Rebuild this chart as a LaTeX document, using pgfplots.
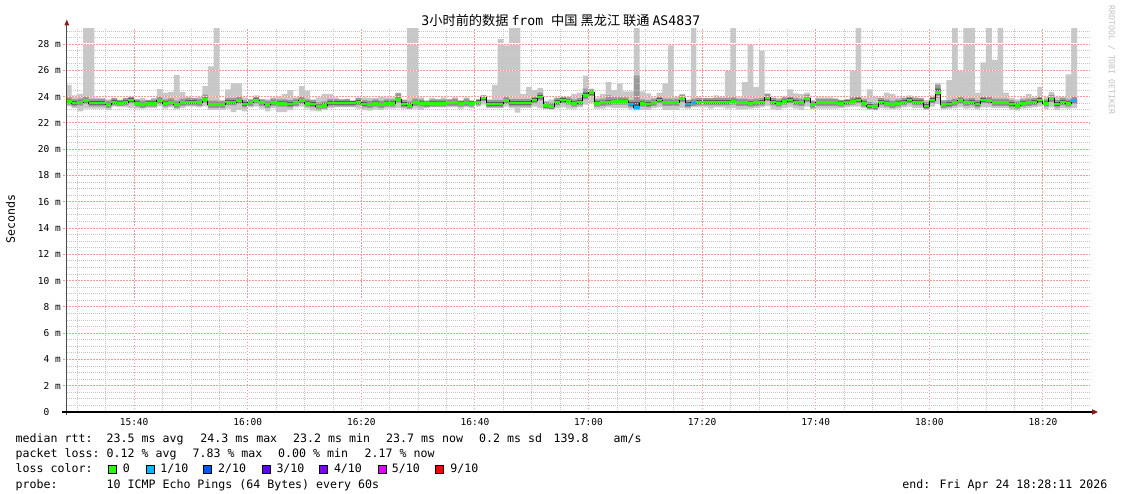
\documentclass[border=0pt]{standalone}
\usepackage{fontspec}
\setmainfont{DejaVu Sans Mono}
\newfontfamily\cjk{Noto Sans CJK SC}
\usepackage{pgfplots}
\pgfplotsset{compat=1.18}
\usepackage{pgfplotstable}
\usepgfplotslibrary{fillbetween}
\definecolor{smokeL}{HTML}{C8C8C8}
\definecolor{smokeM}{HTML}{989898}
\definecolor{smokeD}{HTML}{5A5A5A}
\definecolor{lossA}{HTML}{26FF00}
\definecolor{lossB}{HTML}{00B8FF}
\definecolor{lossC}{HTML}{0059FF}
\definecolor{lossD}{HTML}{5E00FF}
\definecolor{lossE}{HTML}{7E00FF}
\definecolor{lossF}{HTML}{DD00FF}
\definecolor{lossG}{HTML}{FF0000}
\definecolor{majgrid}{HTML}{F09A9A}
\definecolor{mingrid}{HTML}{C4C4C4}
\definecolor{arrowred}{HTML}{8B1A1A}
\definecolor{wmgray}{HTML}{C0C0C0}
\newcommand\tickfont{\fontsize{9.5}{11}\selectfont}
\newcommand\legfont{\fontsize{11.6}{13}\selectfont}
\newcommand\titlefont{\fontsize{13.2}{15}\selectfont}
\newcommand\wmfont{\fontsize{8.2}{9}\selectfont}

\pgfplotstableread{
t lo mlo dlo med dhi mhi hi
28 23.26 23.39 23.52 23.64 23.78 23.94 24.90
29 23.13 23.26 23.39 23.51 23.65 23.81 24.10
30 22.88 23.31 23.44 23.56 23.70 23.86 24.20
31 23.08 23.44 23.57 23.69 23.83 23.99 30
32 23.08 23.26 23.39 23.51 23.65 23.81 30
33 23.08 23.26 23.39 23.51 23.65 23.81 23.95
34 23.08 23.26 23.39 23.51 23.65 23.81 23.90
35 23.00 23.14 23.27 23.39 23.53 23.69 23.80
36 23.23 23.34 23.47 23.59 23.73 23.89 23.90
37 23.26 23.26 23.37 23.49 23.63 23.75 23.75
38 23.18 23.34 23.47 23.59 23.73 23.89 23.90
39 23.13 23.49 23.62 23.74 23.88 24.04 24.05
40 23.08 23.24 23.37 23.49 23.63 23.79 23.80
41 23.08 23.14 23.27 23.39 23.53 23.69 23.90
42 23.13 23.24 23.37 23.49 23.63 23.75 23.75
43 23.13 23.24 23.37 23.49 23.63 23.79 23.90
44 23.26 23.44 23.57 23.69 23.83 23.99 24.58
45 23.08 23.24 23.37 23.49 23.63 23.79 24.30
46 23.18 23.31 23.44 23.56 23.70 23.86 24.35
47 23.03 23.14 23.27 23.39 23.53 23.69 25.65
48 23.13 23.29 23.42 23.54 23.68 23.84 24.35
49 23.23 23.34 23.47 23.59 23.73 23.89 24.05
50 23.23 23.34 23.47 23.59 23.73 23.89 23.90
51 23.18 23.29 23.42 23.54 23.68 23.84 24.05
52 23.26 23.54 23.67 23.79 23.93 24.15 24.80
53 23.00 23.14 23.27 23.39 23.53 23.69 26.30
54 23.00 23.14 23.27 23.39 23.53 23.69 30
55 23.00 23.14 23.27 23.39 23.53 23.69 23.70
56 23.08 23.34 23.47 23.59 23.73 23.89 24.55
57 22.83 23.34 23.47 23.59 23.73 23.89 25.00
58 23.00 23.44 23.57 23.69 23.83 23.99 25.00
59 22.88 23.19 23.32 23.44 23.58 23.74 23.95
60 23.18 23.29 23.42 23.54 23.68 23.80 23.80
61 23.23 23.47 23.60 23.72 23.86 24.02 24.10
62 23.08 23.29 23.42 23.54 23.68 23.80 23.80
63 22.88 23.14 23.27 23.39 23.53 23.69 23.80
64 23.13 23.29 23.42 23.54 23.68 23.84 23.95
65 22.83 23.24 23.37 23.49 23.63 23.79 24.00
66 22.83 23.24 23.37 23.49 23.63 23.79 24.20
67 23.00 23.19 23.32 23.44 23.58 23.74 24.50
68 23.18 23.29 23.42 23.54 23.68 23.84 23.95
69 23.23 23.44 23.57 23.69 23.83 23.99 24.80
70 23.08 23.24 23.37 23.49 23.63 23.79 24.45
71 22.93 23.19 23.32 23.44 23.58 23.74 23.80
72 22.88 23.01 23.14 23.26 23.40 23.56 23.95
73 23.00 23.09 23.22 23.34 23.48 23.64 24.20
74 23.13 23.26 23.39 23.51 23.65 23.81 24.20
75 23.18 23.26 23.39 23.51 23.65 23.81 23.95
76 23.18 23.26 23.39 23.51 23.65 23.80 23.80
77 23.18 23.26 23.39 23.51 23.65 23.81 23.85
78 23.18 23.26 23.39 23.51 23.65 23.70 23.70
79 23.08 23.34 23.47 23.59 23.73 23.89 23.95
80 23.00 23.19 23.32 23.44 23.58 23.74 23.95
81 22.93 23.14 23.27 23.39 23.53 23.69 23.90
82 23.03 23.24 23.37 23.49 23.63 23.79 23.90
83 22.98 23.14 23.27 23.39 23.53 23.69 24.05
84 23.08 23.24 23.37 23.49 23.63 23.79 23.95
85 23.08 23.24 23.37 23.49 23.63 23.79 23.95
86 23.13 23.54 23.67 23.79 23.93 24.25 24.30
87 23.08 23.19 23.32 23.44 23.58 23.74 23.80
88 23.03 23.09 23.22 23.34 23.48 23.64 30
89 23.08 23.29 23.42 23.54 23.68 23.84 30
90 23.00 23.24 23.37 23.49 23.63 23.79 23.95
91 23.13 23.21 23.34 23.46 23.60 23.70 23.70
92 23.18 23.24 23.37 23.49 23.63 23.79 23.90
93 23.18 23.24 23.37 23.49 23.63 23.79 23.80
94 23.18 23.24 23.37 23.49 23.63 23.79 23.95
95 23.18 23.29 23.42 23.54 23.68 23.80 23.80
96 23.18 23.29 23.42 23.54 23.68 23.84 23.95
97 23.08 23.24 23.37 23.49 23.63 23.70 23.70
98 23.18 23.29 23.42 23.54 23.68 23.84 23.95
99 23.13 23.24 23.37 23.49 23.63 23.70 23.70
100 23.23 23.34 23.47 23.59 23.73 23.80 23.80
101 23.39 23.65 23.78 23.90 24.04 24.10 24.10
102 23.13 23.19 23.32 23.44 23.58 23.74 23.80
103 23.13 23.19 23.32 23.44 23.58 23.74 24.90
104 23.13 23.19 23.32 23.44 23.58 23.74 28.40
105 23.23 23.44 23.57 23.69 23.83 23.99 27.90
106 23.13 23.26 23.39 23.51 23.65 23.81 30
107 22.78 23.26 23.39 23.51 23.65 23.81 30
108 23.13 23.26 23.39 23.51 23.65 23.81 24.20
109 23.13 23.26 23.39 23.51 23.65 23.81 24.75
110 23.23 23.49 23.62 23.74 23.88 24.04 24.50
111 23.13 23.72 23.85 23.97 24.11 24.30 24.65
112 23.08 23.08 23.19 23.31 23.45 23.61 23.70
113 23.03 23.03 23.11 23.23 23.37 23.53 23.80
114 23.13 23.34 23.47 23.59 23.73 23.89 23.95
115 23.18 23.49 23.62 23.74 23.88 24.00 24.00
116 23.08 23.39 23.52 23.64 23.78 23.94 23.95
117 23.08 23.24 23.37 23.49 23.63 23.79 24.20
118 23.18 23.34 23.47 23.59 23.73 23.89 24.30
119 23.39 23.80 23.95 24.10 24.30 24.60 25.60
120 23.49 24.00 24.15 24.30 24.45 24.55 24.60
121 23.08 23.24 23.37 23.49 23.63 23.79 23.95
122 23.08 23.29 23.42 23.54 23.68 23.84 24.20
123 23.18 23.34 23.47 23.59 23.73 24.10 25.10
124 23.13 23.39 23.52 23.64 23.78 23.94 24.50
125 23.13 23.39 23.52 23.64 23.78 23.94 25.00
126 23.13 23.39 23.52 23.64 23.78 23.94 24.40
127 23.03 23.19 23.32 23.44 23.58 23.74 24.40
128 22.98 22.98 23.06 23.18 23.60 25.60 30
129 23.00 23.24 23.37 23.49 23.63 23.79 24.40
130 22.98 23.19 23.32 23.44 23.58 23.74 24.25
131 23.13 23.29 23.42 23.54 23.68 23.84 23.95
132 23.18 23.49 23.62 23.74 23.88 24.04 24.30
133 22.98 23.29 23.42 23.54 23.68 23.84 25.00
134 22.98 23.29 23.42 23.54 23.68 23.84 27.90
135 22.98 23.29 23.42 23.54 23.68 23.84 24.00
136 23.13 23.59 23.72 23.84 23.98 24.14 24.20
137 23.08 23.19 23.32 23.44 23.58 23.74 23.80
138 23.18 23.29 23.42 23.54 23.68 23.84 30
139 23.18 23.34 23.47 23.59 23.73 23.89 23.95
140 23.18 23.34 23.47 23.59 23.73 23.89 23.90
141 23.08 23.34 23.47 23.59 23.73 23.89 23.90
142 23.18 23.34 23.47 23.59 23.73 23.89 24.10
143 23.18 23.34 23.47 23.59 23.73 23.89 24.00
144 23.08 23.34 23.47 23.59 23.73 23.89 26.00
145 23.13 23.39 23.52 23.64 23.78 23.94 30
146 23.03 23.29 23.42 23.54 23.68 23.84 23.95
147 23.03 23.29 23.42 23.54 23.68 23.84 25.10
148 23.08 23.24 23.37 23.49 23.63 23.79 28.10
149 23.13 23.29 23.42 23.54 23.68 23.84 24.75
150 23.18 23.34 23.47 23.59 23.73 23.89 27.50
151 23.28 23.65 23.78 23.90 24.04 24.20 24.25
152 23.03 23.34 23.47 23.59 23.73 23.89 23.95
153 22.98 23.24 23.37 23.49 23.63 23.79 23.90
154 23.13 23.39 23.52 23.64 23.78 23.94 24.05
155 23.18 23.49 23.62 23.74 23.88 24.04 24.55
156 23.08 23.34 23.47 23.59 23.73 23.89 24.25
157 22.98 23.29 23.42 23.54 23.68 23.84 24.20
158 23.23 23.59 23.72 23.84 23.98 24.14 24.30
159 23.03 23.14 23.27 23.39 23.53 23.69 23.70
160 23.08 23.29 23.42 23.54 23.68 23.84 23.95
161 23.08 23.29 23.42 23.54 23.68 23.84 23.95
162 23.08 23.29 23.42 23.54 23.68 23.84 23.95
163 23.08 23.29 23.42 23.54 23.68 23.84 23.85
164 23.13 23.24 23.37 23.49 23.63 23.75 23.75
165 23.18 23.34 23.47 23.59 23.73 23.80 23.80
166 23.23 23.39 23.52 23.64 23.78 23.94 26.00
167 23.23 23.49 23.62 23.74 23.88 24.04 30
168 23.13 23.24 23.37 23.49 23.63 23.79 23.95
169 23.03 23.03 23.16 23.28 23.42 23.58 24.55
170 22.98 22.98 23.11 23.23 23.37 23.53 24.05
171 23.13 23.34 23.47 23.59 23.73 23.89 23.95
172 23.08 23.24 23.37 23.49 23.63 23.79 24.30
173 23.03 23.14 23.27 23.39 23.53 23.69 24.20
174 23.08 23.24 23.37 23.49 23.63 23.79 23.95
175 23.18 23.34 23.47 23.59 23.73 23.89 23.95
176 23.23 23.49 23.62 23.74 23.88 24.04 24.10
177 23.13 23.34 23.47 23.59 23.73 23.89 24.00
178 23.13 23.34 23.47 23.59 23.73 23.89 23.90
179 23.03 23.03 23.16 23.28 23.42 23.58 23.75
180 23.23 23.49 23.62 23.74 23.88 24.04 24.10
181 23.44 23.90 24.15 24.30 24.60 24.90 25.05
182 23.03 23.14 23.27 23.39 23.53 23.69 23.75
183 23.08 23.19 23.32 23.44 23.58 23.74 25.25
184 23.13 23.29 23.42 23.54 23.68 23.84 30
185 23.18 23.44 23.57 23.69 23.83 23.99 26.00
186 23.08 23.29 23.42 23.54 23.68 23.84 30
187 23.13 23.34 23.47 23.59 23.73 23.89 30
188 23.03 23.19 23.32 23.44 23.58 23.74 24.30
189 23.18 23.49 23.62 23.74 23.88 24.04 26.60
190 23.18 23.44 23.57 23.69 23.83 23.99 30
191 23.13 23.29 23.42 23.54 23.68 23.84 26.80
192 23.13 23.29 23.42 23.54 23.68 23.84 30
193 23.13 23.29 23.42 23.54 23.68 23.84 24.30
194 22.98 23.19 23.32 23.44 23.58 23.74 23.90
195 22.93 23.09 23.22 23.34 23.48 23.64 23.80
196 23.08 23.24 23.37 23.49 23.63 23.79 23.95
197 23.13 23.29 23.42 23.54 23.68 23.84 24.20
198 23.18 23.34 23.47 23.59 23.73 23.89 23.95
199 23.23 23.49 23.62 23.74 23.88 24.04 24.75
200 23.03 23.24 23.37 23.49 23.63 23.79 24.05
201 23.18 23.59 23.72 23.84 23.98 24.14 24.35
202 22.98 23.19 23.32 23.44 23.58 23.74 24.05
203 23.13 23.34 23.47 23.59 23.73 23.89 24.00
204 23.08 23.24 23.37 23.49 23.63 23.79 25.70
205 23.13 23.44 23.57 23.69 23.83 23.99 30
206 23.13 23.44 23.57 23.69 23.83 23.99 30
}\smoke

\begin{document}
\begin{tikzpicture}
% grid drawn beneath the axis (decoration at known pixel positions)
\tikzset{mingr/.style={draw=mingrid, line width=0.8pt, dash pattern=on 1pt off 1pt},
         majgr/.style={draw=majgrid, line width=1pt, dash pattern=on 1.5pt off 1.5pt}}
\foreach \t in {30,35,...,205} {
  \pgfmathsetmacro\xx{67+(\t-28.18)*5.68}
  \draw[mingr] (\xx pt,-412pt) -- (\xx pt,-28.3pt);
}
\foreach \v in {0.5,1,...,29} {
  \pgfmathsetmacro\yy{-412+\v*13.14}
  \draw[mingr] (67pt,\yy pt) -- (1089.4pt,\yy pt);
}
\foreach \t in {40,60,...,200} {
  \pgfmathsetmacro\xx{67+(\t-28.18)*5.68}
  \draw[draw=white, line width=1.2pt] (\xx pt,-412pt) -- (\xx pt,-28.3pt);
  \draw[majgr] (\xx pt,-412pt) -- (\xx pt,-28.3pt);
}
\foreach \v in {2,4,...,28} {
  \pgfmathsetmacro\yy{-412+\v*13.14}
  \draw[draw=white, line width=1.2pt] (63pt,\yy pt) -- (1089.4pt,\yy pt);
  \draw[majgr] (63pt,\yy pt) -- (1089.4pt,\yy pt);
}
\begin{axis}[
  at={(67pt,-412pt)}, anchor=south west,
  scale only axis, width=1022.4pt, height=383.7pt,
  xmin=28.18, xmax=208.18, ymin=0, ymax=29.2,
  axis line style={draw=none},
  tick pos=left,
  xtick={40,60,...,200},
  xticklabels={15:40,16:00,16:20,16:40,17:00,17:20,17:40,18:00,18:20},
  ytick={0,2,...,28},
  yticklabels={0\hphantom{xx},2 m,4 m,6 m,8 m,10 m,12 m,14 m,16 m,18 m,20 m,22 m,24 m,26 m,28 m},
  major tick length=0pt, minor tick length=0pt,
  tick style={draw=none},
  xticklabel style={font=\tickfont, anchor=base, inner sep=0pt, yshift=-13pt},
  yticklabel style={font=\tickfont, anchor=east, inner sep=0pt, xshift=-6pt},
]
\addplot[draw=none, const plot, name path=L1] table[x=t, y=lo]{\smoke};
\addplot[draw=none, const plot, name path=H1] table[x=t, y=hi]{\smoke};
\addplot[fill=smokeL, draw=none] fill between[of=H1 and L1];
\addplot[draw=none, const plot, name path=L2] table[x=t, y=mlo]{\smoke};
\addplot[draw=none, const plot, name path=H2] table[x=t, y=mhi]{\smoke};
\addplot[fill=smokeM, draw=none] fill between[of=H2 and L2];
\addplot[draw=none, const plot, name path=L3] table[x=t, y=dlo]{\smoke};
\addplot[draw=none, const plot, name path=H3] table[x=t, y=dhi]{\smoke};
\addplot[fill=smokeD, draw=none] fill between[of=H3 and L3];
\addplot[black, line width=1pt, const plot] table[x=t, y=med]{\smoke};
\addplot[lossA, line width=2.8pt, jump mark left] table[x=t, y=med]{\smoke};
\addplot[lossB, line width=2.8pt, jump mark left] coordinates {(127,23.44) (128,23.18) (129,23.18)};
\addplot[lossB, line width=2.8pt, jump mark left] coordinates {(137,23.44) (138,23.54) (139,23.54)};
\addplot[lossB, line width=2.8pt, jump mark left] coordinates {(205,23.69) (206,23.69)};
\end{axis}
% axis lines and arrows
\draw[line width=1pt, black!70] (66.8pt,-415pt) -- (66.8pt,-24pt);
\fill[arrowred] (64.3pt,-25.5pt) -- (69.3pt,-25.5pt) -- (66.8pt,-19.5pt) -- cycle;
\draw[line width=1.2pt, black] (62pt,-412pt) -- (1093pt,-412pt);
\fill[arrowred] (1092pt,-409.2pt) -- (1092pt,-414.8pt) -- (1098pt,-412pt) -- cycle;
% title
\node[anchor=base, inner sep=0pt, font=\titlefont] at (560.8pt,-26pt) {3{\cjk 小时前的数据 }from {\cjk 中国 黑龙江 联通 }AS4837};
% y unit
\node[rotate=90, inner sep=0pt, font=\legfont] at (10.5pt,-219pt) {Seconds};
% watermark
\node[rotate=-90, inner sep=0pt, font=\wmfont, text=wmgray] at (1111.5pt,-60pt) {RRDTOOL / TOBI OETIKER};
% legend
\begin{scope}[every node/.style={anchor=base west, inner sep=0pt, font=\legfont}]
\node at (15.5pt,-442.9pt) {median rtt:};
\node at (106.5pt,-442.9pt) {23.5 ms avg};
\node at (200.2pt,-442.9pt) {24.3 ms max};
\node at (293pt,-442.9pt) {23.2 ms min};
\node at (386pt,-442.9pt) {23.7 ms now};
\node at (479pt,-442.9pt) {0.2 ms sd};
\node at (553.5pt,-442.9pt) {139.8};
\node at (613.5pt,-442.9pt) {am/s};
\node at (15.5pt,-457.9pt) {packet loss:};
\node at (106.5pt,-457.9pt) {0.12 \% avg};
\node at (192.4pt,-457.9pt) {7.83 \% max};
\node at (278pt,-457.9pt) {0.00 \% min};
\node at (364.5pt,-457.9pt) {2.17 \% now};
\node at (15.5pt,-472.6pt) {loss color:};
\node at (122.7pt,-472.6pt) {0};
\node at (160.2pt,-472.6pt) {1/10};
\node at (218pt,-472.6pt) {2/10};
\node at (276.3pt,-472.6pt) {3/10};
\node at (333.8pt,-472.6pt) {4/10};
\node at (391.6pt,-472.6pt) {5/10};
\node at (450.2pt,-472.6pt) {9/10};
\node at (15.5pt,-488.3pt) {probe:};
\node at (106.5pt,-488.3pt) {10 ICMP Echo Pings (64 Bytes) every 60s};
\node at (902.2pt,-488.3pt) {end: Fri Apr 24 18:28:11 2026};
\end{scope}
\filldraw[fill=lossA, draw=black, line width=0.6pt] (108pt,-465pt) rectangle (116pt,-473.5pt);
\filldraw[fill=lossB, draw=black, line width=0.6pt] (145.8pt,-465pt) rectangle (153.8pt,-473.5pt);
\filldraw[fill=lossC, draw=black, line width=0.6pt] (203.6pt,-465pt) rectangle (211.6pt,-473.5pt);
\filldraw[fill=lossD, draw=black, line width=0.6pt] (261.8pt,-465pt) rectangle (269.8pt,-473.5pt);
\filldraw[fill=lossE, draw=black, line width=0.6pt] (319.6pt,-465pt) rectangle (327.6pt,-473.5pt);
\filldraw[fill=lossF, draw=black, line width=0.6pt] (377.9pt,-465pt) rectangle (385.9pt,-473.5pt);
\filldraw[fill=lossG, draw=black, line width=0.6pt] (435.7pt,-465pt) rectangle (443.7pt,-473.5pt);
\pgfresetboundingbox
\path[use as bounding box] (0pt,0pt) rectangle (1121pt,-494pt);
\end{tikzpicture}
\end{document}
